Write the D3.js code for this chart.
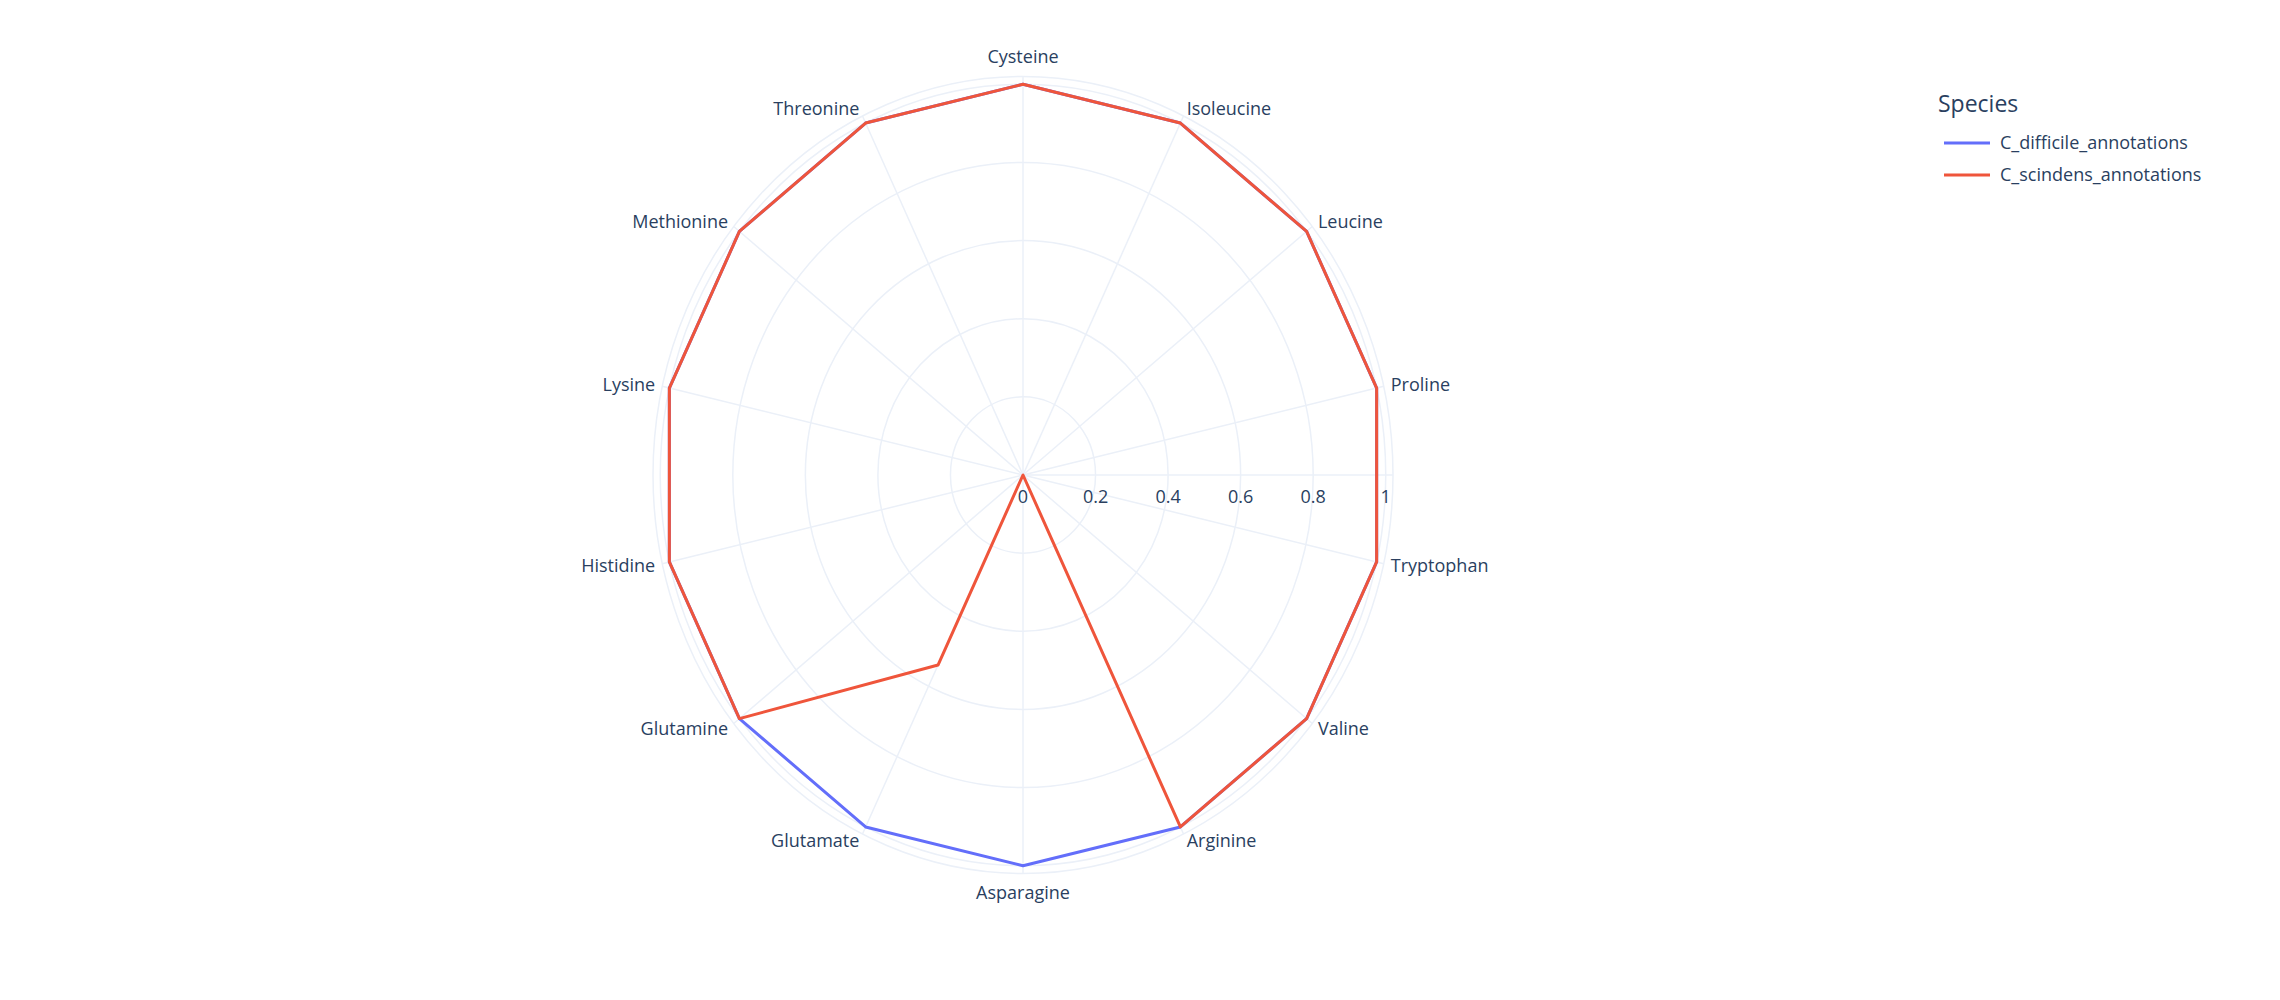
<!DOCTYPE html>
<html>
<head>
<meta charset="UTF-8">
<script src="https://d3js.org/d3.v7.min.js"></script>
<style>
  body { margin:0; background:#fff; }
  text { font-family: "Open Sans", Verdana, sans-serif; fill:#2a3f5f; }
</style>
</head>
<body>
<svg id="chart" width="2280" height="1000"></svg>
<script>
// categories clockwise from the top
const aminoAcids = ["Cysteine","Isoleucine","Leucine","Proline","Tryptophan","Valine","Arginine",
                    "Asparagine","Glutamate","Glutamine","Histidine","Lysine","Methionine","Threonine"];
const difficileValues = [1,1,1,1,1,1,1,1,1,1,1,1,1,1];
const scindensValues  = [1,1,1,1,1,1,1,0,0.54,1,1,1,1,1];
const radialTicks = [0,0.2,0.4,0.6,0.8,1];
const seriesNames = ["C_difficile_annotations","C_scindens_annotations"];
const seriesColors = ["#636efa","#EF553B"];

const svg = d3.select('#chart');
const cx = 1023, cy = 475;
const ySquash = 1.077;   // reference picture is slightly taller than wide
const r = d3.scaleLinear().domain([0, 1.02]).range([0, 370]);
const ang = d3.scaleLinear().domain([0, aminoAcids.length]).range([0, 2*Math.PI]);
const px = (v,i) => r(v)*Math.sin(ang(i));
const py = (v,i) => -r(v)*Math.cos(ang(i))*ySquash;
const g = svg.append('g').attr('transform', `translate(${cx},${cy})`);

// grid rings
g.selectAll('.ring').data(radialTicks.filter(d => d > 0).concat([1.02]))
  .enter().append('ellipse')
  .attr('rx', d => r(d)).attr('ry', d => r(d)*ySquash).attr('fill', 'none')
  .attr('stroke', '#ebf0f8').attr('stroke-width', 1.5);

// spokes
g.selectAll('.spoke').data(aminoAcids).enter().append('line')
  .attr('x2', (d,i) => px(1.02,i)).attr('y2', (d,i) => py(1.02,i))
  .attr('stroke', '#ebf0f8').attr('stroke-width', 1.5);

// radial axis
g.append('line').attr('x2', r(1.02)).attr('stroke', '#ebf0f8').attr('stroke-width', 1.5);
g.selectAll('.rtick').data(radialTicks).enter().append('text')
  .attr('x', d => r(d)).attr('y', 28)
  .attr('text-anchor', 'middle').attr('font-size', 18)
  .text(d => d);

// angular labels
g.selectAll('.alabel').data(aminoAcids).enter().append('text')
  .attr('font-size', 18)
  .attr('x', (d,i) => px(1.04,i))
  .attr('y', (d,i) => py(1.04,i))
  .attr('text-anchor', (d,i) => {
    const s = Math.sin(ang(i));
    return Math.abs(s) < 0.1 ? 'middle' : (s > 0 ? 'start' : 'end');
  })
  .attr('dy', (d,i) => {
    const c = Math.cos(ang(i));
    return c > 0.95 ? '-0.3em' : (c < -0.95 ? '1em' : '0.35em');
  })
  .text(d => d);

// series lines
const line = d3.line().x((d,i) => px(d,i)).y((d,i) => py(d,i)).curve(d3.curveLinearClosed);
[difficileValues, scindensValues].forEach((vals, k) => {
  g.append('path').attr('d', line(vals)).attr('fill', 'none')
    .attr('stroke', seriesColors[k]).attr('stroke-width', 3).attr('stroke-linejoin', 'round');
});

// legend
const lg = svg.append('g').attr('transform', 'translate(1938,112)');
lg.append('text').attr('font-size', 23).text('Species');
seriesNames.forEach((n, k) => {
  const y = 31 + k*32;
  lg.append('line').attr('x1', 6).attr('x2', 52).attr('y1', y).attr('y2', y)
    .attr('stroke', seriesColors[k]).attr('stroke-width', 3);
  lg.append('text').attr('x', 62).attr('y', y + 6).attr('font-size', 18).text(n);
});
</script>
</body>
</html>
